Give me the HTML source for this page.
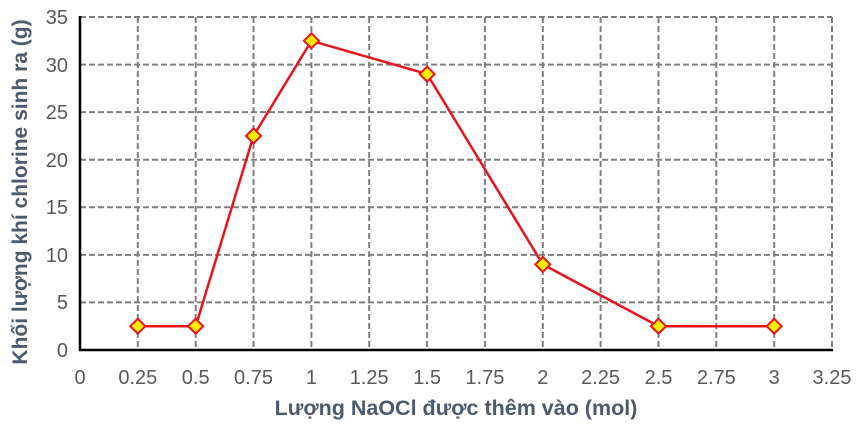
<!DOCTYPE html>
<html><head><style>body{margin:0;background:#fff}</style></head><body>
<svg width="858" height="425" xmlns="http://www.w3.org/2000/svg" font-family="Liberation Sans, sans-serif">
<g stroke="#7f7f7f" stroke-width="2" stroke-dasharray="6,3" fill="none">
<line x1="80" y1="17" x2="832" y2="17"/>
<line x1="80" y1="64.6" x2="832" y2="64.6"/>
<line x1="80" y1="112.1" x2="832" y2="112.1"/>
<line x1="80" y1="159.7" x2="832" y2="159.7"/>
<line x1="80" y1="207.3" x2="832" y2="207.3"/>
<line x1="80" y1="254.9" x2="832" y2="254.9"/>
<line x1="80" y1="302.4" x2="832" y2="302.4"/>
<line x1="137.8" y1="17" x2="137.8" y2="350"/>
<line x1="195.7" y1="17" x2="195.7" y2="350"/>
<line x1="253.5" y1="17" x2="253.5" y2="350"/>
<line x1="311.4" y1="17" x2="311.4" y2="350"/>
<line x1="369.2" y1="17" x2="369.2" y2="350"/>
<line x1="427.1" y1="17" x2="427.1" y2="350"/>
<line x1="484.9" y1="17" x2="484.9" y2="350"/>
<line x1="542.8" y1="17" x2="542.8" y2="350"/>
<line x1="600.6" y1="17" x2="600.6" y2="350"/>
<line x1="658.5" y1="17" x2="658.5" y2="350"/>
<line x1="716.3" y1="17" x2="716.3" y2="350"/>
<line x1="774.2" y1="17" x2="774.2" y2="350"/>
<line x1="832" y1="17" x2="832" y2="350"/>
</g>
<line x1="80" y1="16" x2="80" y2="351" stroke="#000" stroke-width="2.5"/>
<line x1="79" y1="350" x2="833" y2="350" stroke="#000" stroke-width="2.5"/>
<polyline fill="none" stroke="#e8141b" stroke-width="2.5" points="137.8,326.2 195.7,326.2 253.5,135.9 311.4,40.8 427.1,74.1 542.8,264.4 658.5,326.2 774.2,326.2"/>
<g fill="#ffee00" stroke="#e8141b" stroke-width="2">
<polygon points="137.8,318.7 145.3,326.2 137.8,333.7 130.3,326.2"/>
<polygon points="195.7,318.7 203.2,326.2 195.7,333.7 188.2,326.2"/>
<polygon points="253.5,128.4 261,135.9 253.5,143.4 246,135.9"/>
<polygon points="311.4,33.3 318.9,40.8 311.4,48.3 303.9,40.8"/>
<polygon points="427.1,66.6 434.6,74.1 427.1,81.6 419.6,74.1"/>
<polygon points="542.8,256.9 550.3,264.4 542.8,271.9 535.3,264.4"/>
<polygon points="658.5,318.7 666,326.2 658.5,333.7 651,326.2"/>
<polygon points="774.2,318.7 781.7,326.2 774.2,333.7 766.7,326.2"/>
</g>
<g fill="#595959" font-size="20" text-anchor="end">
<text x="68" y="24">35</text><text x="68" y="72">30</text><text x="68" y="119">25</text>
<text x="68" y="167">20</text><text x="68" y="214">15</text><text x="68" y="262">10</text>
<text x="68" y="309">5</text><text x="68" y="357">0</text>
</g>
<g fill="#595959" font-size="20" text-anchor="middle">
<text x="80" y="384">0</text><text x="137.8" y="384">0.25</text><text x="195.7" y="384">0.5</text>
<text x="253.5" y="384">0.75</text><text x="311.4" y="384">1</text><text x="369.2" y="384">1.25</text>
<text x="427.1" y="384">1.5</text><text x="484.9" y="384">1.75</text><text x="542.8" y="384">2</text>
<text x="600.6" y="384">2.25</text><text x="658.5" y="384">2.5</text><text x="716.3" y="384">2.75</text>
<text x="774.2" y="384">3</text><text x="832" y="384">3.25</text>
</g>
<text x="456" y="415" text-anchor="middle" font-size="21.5" font-weight="bold" fill="#4b5b6e">Lượng NaOCl được thêm vào (mol)</text>
<text transform="translate(27,192) rotate(-90)" text-anchor="middle" font-size="21" font-weight="bold" fill="#4b5b6e">Khối lượng khí chlorine sinh ra (g)</text>
</svg>
</body></html>
